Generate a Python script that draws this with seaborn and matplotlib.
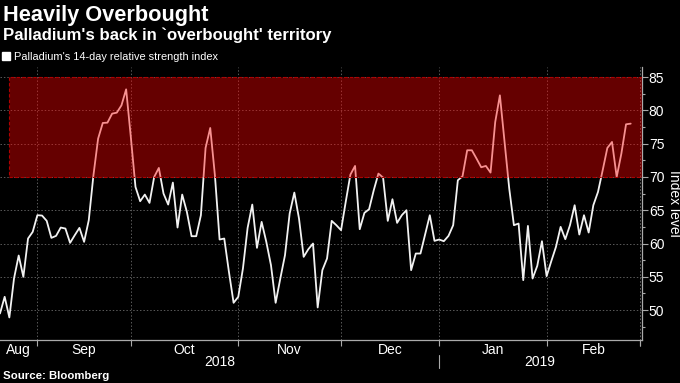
import numpy as np
import pandas as pd
import matplotlib
matplotlib.use("Agg")
import matplotlib.pyplot as plt
import matplotlib.transforms as mtransforms
from matplotlib.patches import Patch
from matplotlib.ticker import MultipleLocator
import seaborn as sns

# weekday-indexed series, first point 2018-08-22
start_date = "2018-08-22"
axis_end = "2019-03-01"
rsi = [
    49.5, 52.0, 48.9, 54.75, 58.2, 55.0, 60.75, 61.75, 64.25, 64.2,
    63.4, 60.85, 61.15, 62.4, 62.25, 60.1, 61.25, 62.35, 60.25, 63.5,
    70.25, 75.75, 78.1, 78.15, 79.5, 79.65, 80.75, 83.15,
    76.0, 68.5, 66.35, 67.35, 66.1, 70.0, 71.35, 67.5, 65.85, 69.15,
    62.4, 67.35, 64.75, 61.1, 61.1, 64.25, 74.35, 77.35, 70.25, 60.6,
    60.75, 55.75, 51.1, 52.0, 56.25, 62.35, 65.85,
    59.35, 63.25, 60.25, 56.75, 51.1, 54.75, 58.25, 64.5, 67.65, 63.75,
    58.0, 59.15, 60.0, 50.4, 56.0, 57.75, 63.4, 62.75, 62.0, 66.25,
    70.35, 71.65, 62.15, 64.6, 65.15, 68.0, 70.5,
    69.9, 63.4, 66.65, 63.1, 64.25, 65.0, 56.0, 58.5, 58.5, 61.35,
    64.25, 60.4, 60.6, 60.35, 61.15, 62.75, 69.5, 70.1, 74.0, 74.0,
    72.75, 71.45, 71.65, 70.65, 78.25, 82.25, 75.25,
    68.25, 62.75, 63.0, 54.5, 62.65, 54.75, 56.65, 60.35, 55.1, 57.35,
    59.5, 62.5, 60.65, 62.75, 65.75, 61.35, 64.25, 61.65, 65.75, 67.75,
    71.0, 74.35, 75.25, 70.0, 73.5, 77.9, 78.0,
]
band_low, band_high = 70, 85
band_start = 2
y_ticks = [50, 55, 60, 65, 70, 75, 80, 85]
legend_label = "Palladium's 14-day relative strength index"

dates = pd.bdate_range(start_date, axis_end)
df = pd.DataFrame({"pos": np.arange(len(rsi)), "rsi": rsi, "date": dates[:len(rsi)]})

# month boundaries (first weekday of each month) on the weekday axis
months = pd.Series(dates.to_period("M"))
bounds = [i for i in range(1, len(dates)) if months[i] != months[i - 1]]
x_max = len(dates) - 0.6
edges = [0] + bounds + [x_max]
month_centers = [(edges[k] + edges[k + 1]) / 2 for k in range(len(edges) - 2)]
month_names = [months[e].strftime("%b") for e in edges[:-2]]
year_first = bounds[[months[b].year for b in bounds].index(2019)]

sns.set_theme(style="ticks")
plt.rcParams["font.family"] = ["Liberation Sans", "DejaVu Sans"]

fig = plt.figure(figsize=(6.8, 3.83), dpi=100, facecolor="black")
ax = fig.add_axes([0.0, 0.112, 0.944, 0.713], facecolor="black")

sns.lineplot(data=df, x="pos", y="rsi", color="#f2f2f2", linewidth=1.3, ax=ax, zorder=2)
ax.fill_between([band_start, x_max], band_low, band_high, facecolor=(1, 0, 0, 0.4),
                edgecolor="#b00000", linestyle=(0, (3, 2)), linewidth=0.8, zorder=3)

ax.set_xlim(0, x_max)
ax.set_ylim(45.5, 86.5)
ax.set_xlabel("")
ax.set_ylabel("Index level", color="white", fontsize=10, rotation=270, labelpad=12)
ax.yaxis.tick_right()
ax.yaxis.set_label_position("right")
ax.set_yticks(y_ticks)
ax.yaxis.set_minor_locator(MultipleLocator(2.5))
ax.tick_params(axis="y", which="major", colors="#aaaaaa", labelcolor="white", labelsize=10,
               length=4, width=0.8, pad=1)
ax.tick_params(axis="y", which="minor", colors="#aaaaaa", length=2.5, width=0.8)

ax.set_xticks(bounds + [len(dates) - 1])
ax.set_xticklabels([])
ax.set_xticks(month_centers, minor=True)
ax.set_xticklabels(month_names, minor=True)
ax.tick_params(axis="x", which="major", colors="#aaaaaa", length=4, width=0.8)
ax.tick_params(axis="x", which="minor", length=0, labelcolor="white", labelsize=10, pad=2)

ax.grid(True, which="major", color="#5a5a5a", linestyle=(0, (1.5, 2)), linewidth=0.7)
for side in ["top", "left"]:
    ax.spines[side].set_visible(False)
for side in ["bottom", "right"]:
    ax.spines[side].set_color("#aaaaaa")
    ax.spines[side].set_linewidth(0.9)

# year row
trans = mtransforms.blended_transform_factory(ax.transData, ax.transAxes)
ax.text((0 + year_first) / 2, -0.082, "2018", transform=trans, ha="center", va="center",
        color="white", fontsize=10)
ax.text((year_first + len(dates) - 1) / 2, -0.082, "2019", transform=trans, ha="center",
        va="center", color="white", fontsize=10)
ax.plot([year_first, year_first], [-0.055, -0.103], transform=trans, color="#aaaaaa",
        linewidth=0.8, clip_on=False)

fig.text(0.004, 1 - 15 / 383, "Heavily Overbought", color="white", fontsize=15.7,
         fontweight="bold", va="center", ha="left")
fig.text(0.004, 1 - 35 / 383, "Palladium's back in `overbought' territory", color="white",
         fontsize=12.1, fontweight="bold", va="center", ha="left")
fig.legend(handles=[Patch(facecolor="white", label=legend_label)], loc="center left",
           bbox_to_anchor=(0.0, 1 - 57 / 383), frameon=False, fontsize=7.9,
           handlelength=0.7, handleheight=0.7, handletextpad=0.35, labelcolor="white",
           borderaxespad=0, borderpad=0.2)
fig.text(0.004, 1 - 376 / 383, "Source: Bloomberg", color="white", fontsize=8.2,
         fontweight="bold", va="center", ha="left")

fig.savefig("out.png", dpi=100, facecolor="black")
